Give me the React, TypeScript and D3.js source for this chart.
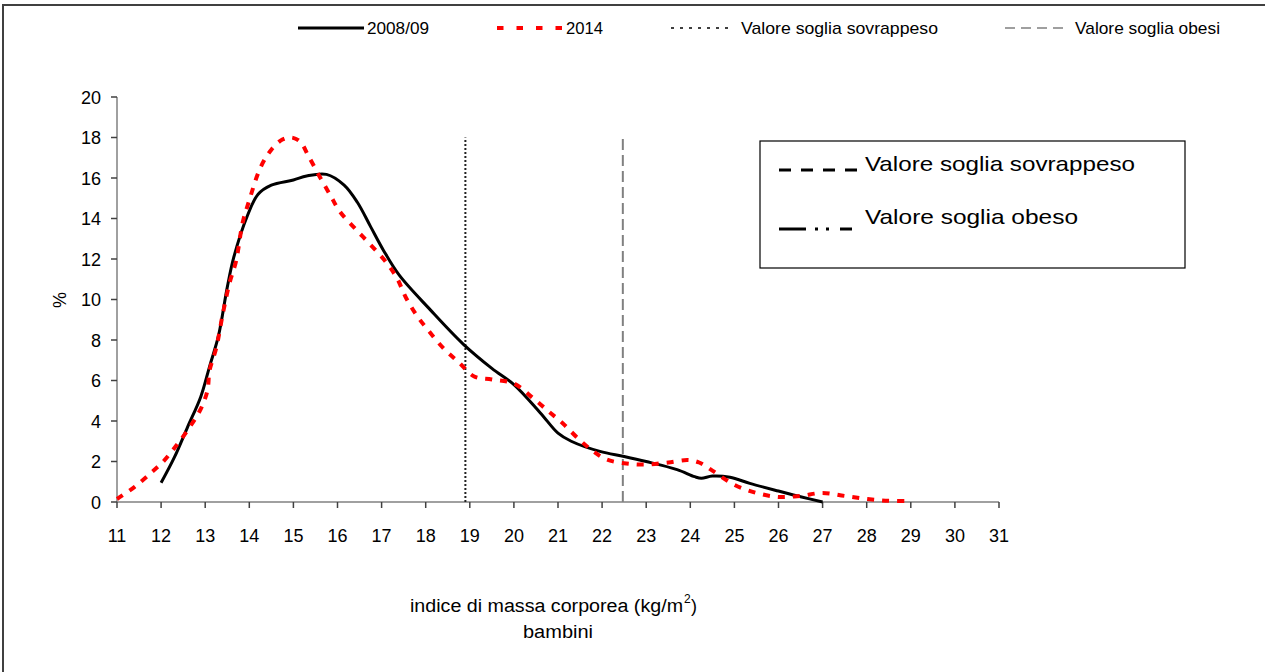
import React from "react";
import * as d3 from "d3";

const xTicks = [11,12,13,14,15,16,17,18,19,20,21,22,23,24,25,26,27,28,29,30,31];
const yTicks = [0,2,4,6,8,10,12,14,16,18,20];

const bmi0809 = [12,12.3,12.6,12.9,13.1,13.3,13.5,13.65,13.95,14.2,14.5,15.0,15.3,15.75,16.15,16.45,16.75,17.05,17.4,18.1,18.85,19.5,20.0,20.6,21.0,21.3,21.95,22.5,23.0,23.7,24.1,24.25,24.5,24.9,25.35,26.0,26.5,27.0];
const pct0809 = [0.95,2.2,3.7,5.2,6.7,8.2,10.6,12.1,14.1,15.2,15.65,15.9,16.1,16.18,15.65,14.8,13.6,12.4,11.2,9.5,7.8,6.6,5.8,4.4,3.4,3.0,2.5,2.25,2.0,1.6,1.25,1.17,1.28,1.22,0.92,0.54,0.26,0];

const bmi2014 = [11.0,11.4,11.8,12.05,12.35,12.65,12.9,13.05,13.1,13.25,13.4,13.55,13.7,13.85,14.0,14.25,14.5,14.75,14.95,15.15,15.35,15.6,15.85,16.05,16.4,16.75,17.1,17.35,17.55,17.8,18.05,18.4,18.75,19.1,19.5,20.0,20.45,20.8,21.1,21.45,21.8,22.1,22.55,23.0,23.5,23.95,24.2,24.5,25.0,25.5,26.0,26.5,27.0,27.5,28.0,28.5,29.0];
const pct2014 = [0.15,0.75,1.5,2.0,2.8,3.7,4.6,5.5,6.5,7.6,9.3,10.8,11.9,13.8,14.9,16.5,17.4,17.9,18.0,17.8,17.05,16.05,15.1,14.35,13.5,12.7,11.85,11.05,10.1,9.2,8.5,7.6,6.9,6.2,6.05,5.85,5.1,4.45,3.9,3.15,2.5,2.1,1.9,1.85,1.95,2.07,1.95,1.55,0.85,0.45,0.25,0.3,0.45,0.3,0.15,0.06,0.05];

const seriesNames = ["2008/09", "2014", "Valore soglia sovrappeso", "Valore soglia obesi"];
const thresholds = [18.9, 22.47];
const thresholdTop = 18;
const boxLabels = ["Valore soglia sovrappeso", "Valore soglia obeso"];

const FONT = "'Liberation Sans', Arial, sans-serif";

export default function App() {
  const x = d3.scaleLinear().domain([11, 31]).range([117, 999]);
  const y = d3.scaleLinear().domain([0, 20]).range([502, 97]);
  const line = d3.line<[number, number]>().x(d => x(d[0])).y(d => y(d[1])).curve(d3.curveCatmullRom.alpha(0.5));
  const d0809 = line(bmi0809.map((v, i) => [v, pct0809[i]]) as [number, number][]) || "";
  const d2014 = line(bmi2014.map((v, i) => [v, pct2014[i]]) as [number, number][]) || "";

  const legendY = 28;
  return (
    <svg width={1265} height={672} style={{ position: "absolute", left: 0, top: 0, background: "#fff" }} fontFamily={FONT}>
      <rect x={3} y={5} width={1275} height={680} fill="#fff" stroke="#404040" strokeWidth={2} />
      {/* top legend */}
      <line x1={298} x2={364} y1={legendY} y2={legendY} stroke="#000" strokeWidth={3} />
      <text x={367} y={legendY + 6} fontSize={17} textLength={62} lengthAdjust="spacingAndGlyphs">{seriesNames[0]}</text>
      <line x1={497} x2={563} y1={legendY} y2={legendY} stroke="#f00" strokeWidth={4} strokeDasharray="6.5,13" />
      <text x={566} y={legendY + 6} fontSize={17} textLength={37} lengthAdjust="spacingAndGlyphs">{seriesNames[1]}</text>
      <line x1={671} x2={733} y1={legendY} y2={legendY} stroke="#000" strokeWidth={1.5} strokeDasharray="3,6" />
      <text x={741} y={legendY + 6} fontSize={17} textLength={197} lengthAdjust="spacingAndGlyphs">{seriesNames[2]}</text>
      <line x1={1005} x2={1069} y1={legendY} y2={legendY} stroke="#808080" strokeWidth={1.5} strokeDasharray="10,6" />
      <text x={1075} y={legendY + 6} fontSize={17} textLength={145} lengthAdjust="spacingAndGlyphs">{seriesNames[3]}</text>

      {/* axes */}
      <line x1={x(11)} x2={x(31)} y1={y(0)} y2={y(0)} stroke="#808080" strokeWidth={1.5} />
      <line x1={x(11)} x2={x(11)} y1={y(0)} y2={y(20)} stroke="#808080" strokeWidth={1.5} />
      {xTicks.map(t => (
        <g key={"x" + t}>
          <line x1={x(t)} x2={x(t)} y1={y(0)} y2={y(0) + 6} stroke="#404040" strokeWidth={1.5} />
          <text x={x(t)} y={y(0) + 40} fontSize={18} textAnchor="middle">{t}</text>
        </g>
      ))}
      {yTicks.map(t => (
        <g key={"y" + t}>
          <line x1={x(11) - 6} x2={x(11)} y1={y(t)} y2={y(t)} stroke="#404040" strokeWidth={1.5} />
          <text x={101} y={y(t) + 6.5} fontSize={18} textAnchor="end">{t}</text>
        </g>
      ))}
      <text transform={`translate(66,300) rotate(-90)`} fontSize={18} textAnchor="middle">%</text>

      {/* thresholds */}
      <line x1={x(thresholds[0])} x2={x(thresholds[0])} y1={y(0)} y2={y(thresholdTop)} stroke="#222" strokeWidth={2} strokeDasharray="2,2" />
      <line x1={x(thresholds[1])} x2={x(thresholds[1])} y1={y(0)} y2={y(thresholdTop)} stroke="#808080" strokeWidth={2} strokeDasharray="11,5" />

      {/* series */}
      <path d={d0809} fill="none" stroke="#000" strokeWidth={3} />
      <path d={d2014} fill="none" stroke="#f00" strokeWidth={4} strokeDasharray="7,8" />

      {/* x title */}
      <text x={410} y={612} fontSize={18} textLength={273} lengthAdjust="spacingAndGlyphs">indice di massa corporea (kg/m</text>
      <text x={684} y={603} fontSize={12}>2</text>
      <text x={691} y={612} fontSize={18}>)</text>
      <text x={558} y={638} fontSize={18} textAnchor="middle" textLength={70} lengthAdjust="spacingAndGlyphs">bambini</text>

      {/* inner legend box */}
      <rect x={760} y={141} width={425} height={127} fill="#fff" stroke="#000" strokeWidth={1.2} />
      <line x1={779} x2={857} y1={170} y2={170} stroke="#000" strokeWidth={3} strokeDasharray="12,10" />
      <text x={865} y={171} fontSize={21} textLength={270} lengthAdjust="spacingAndGlyphs">{boxLabels[0]}</text>
      <line x1={779} x2={806} y1={229} y2={229} stroke="#000" strokeWidth={3} />
      <line x1={815} x2={830} y1={229} y2={229} stroke="#000" strokeWidth={3} strokeDasharray="3,8" />
      <line x1={840} x2={852} y1={229} y2={229} stroke="#000" strokeWidth={3} />
      <text x={865} y={224} fontSize={21} textLength={213} lengthAdjust="spacingAndGlyphs">{boxLabels[1]}</text>
    </svg>
  );
}
